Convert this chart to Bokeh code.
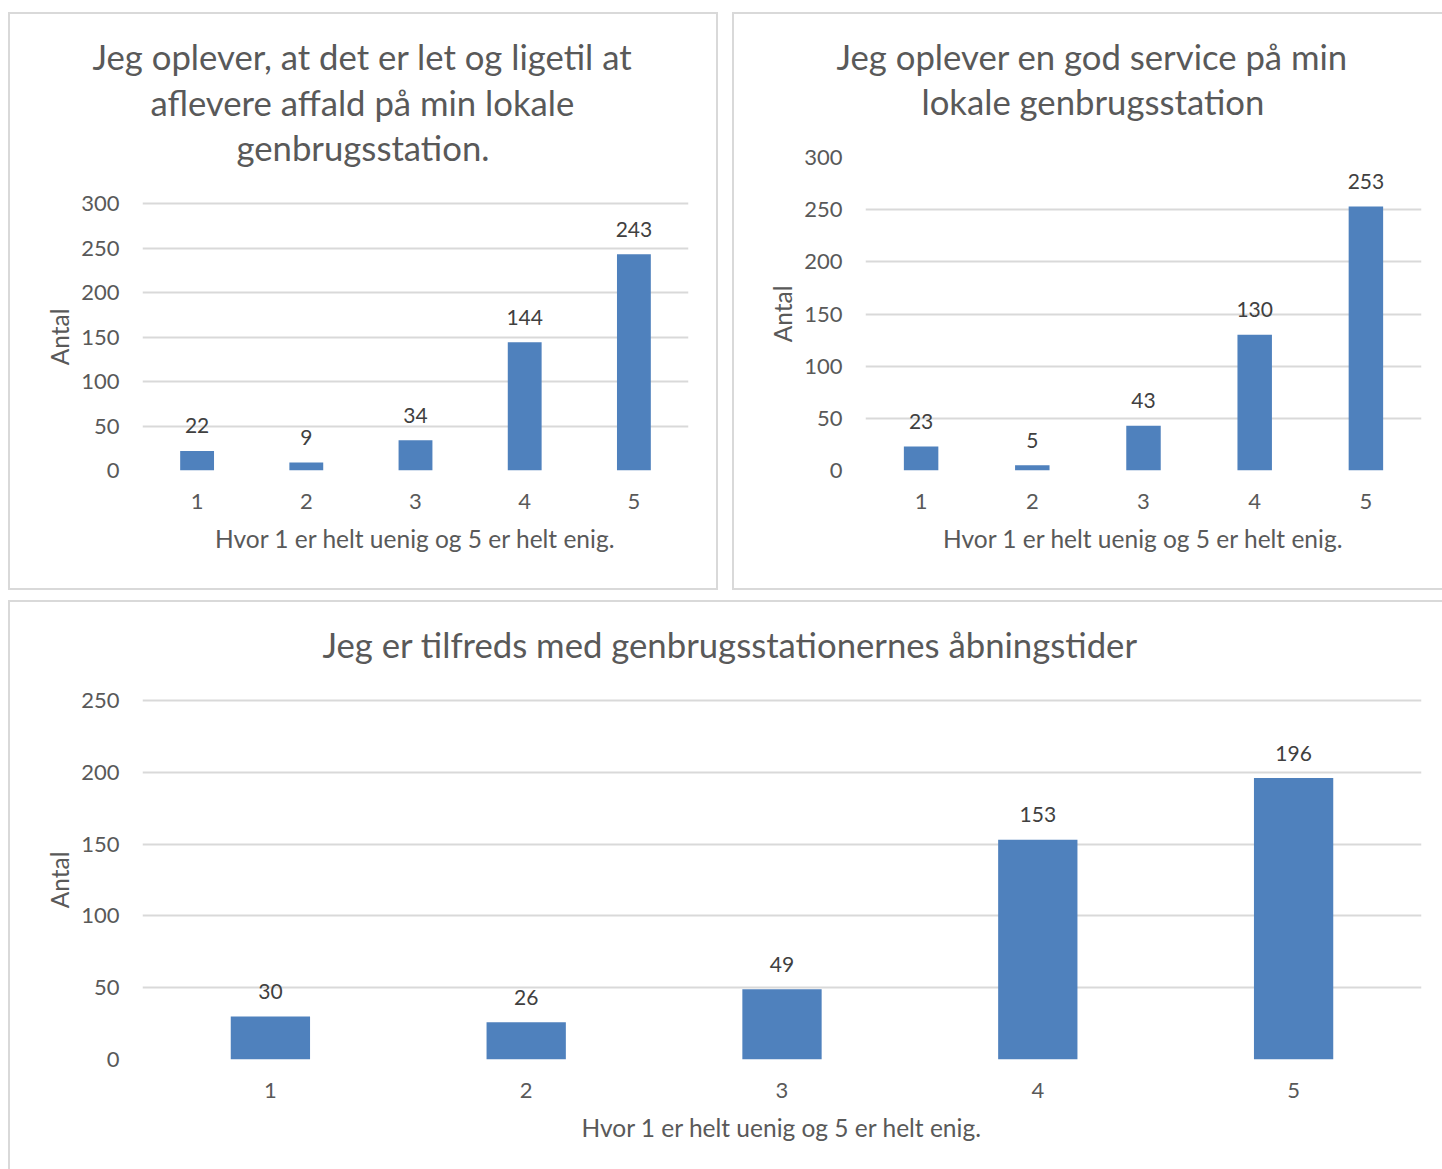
from bokeh.plotting import figure
from bokeh.models import Range1d, FixedTicker, Title
from bokeh.layouts import column, row
from bokeh.embed import file_html
from bokeh.resources import INLINE
from bokeh.core.properties import value

# Survey answers, scale 1-5
categories = [1, 2, 3, 4, 5]
tick_labels = ["1", "2", "3", "4", "5"]
easy_counts = [22, 9, 34, 144, 243]
service_counts = [23, 5, 43, 130, 253]
hours_counts = [30, 26, 49, 153, 196]

easy_title = ["Jeg oplever, at det er let og ligetil at",
              "aflevere affald på min lokale",
              "genbrugsstation."]
service_title = ["Jeg oplever en god service på min",
                 "lokale genbrugsstation"]
hours_title = ["Jeg er tilfreds med genbrugsstationernes åbningstider"]
x_axis_title = "Hvor 1 er helt uenig og 5 er helt enig."
y_axis_title = "Antal"

FONT = "Lato"
TITLE_SIZE = "34.7px"
AXIS_TITLE_SIZE = "24.5px"
BAR = "#4F81BD"
GREY_TEXT = "#595959"
LABEL_TEXT = "#404040"
GRID = "#d9d9d9"


def make_panel(counts, width, height, ytop, yticks, left, right, top, bottom,
               border, ytitle_offset):
    p = figure(width=width, height=height, output_backend="svg",
               toolbar_location=None, tools="",
               x_range=Range1d(0.5, 5.5), y_range=Range1d(0, ytop),
               min_border_left=left, min_border_right=right,
               min_border_top=top, min_border_bottom=bottom)
    p.outline_line_color = None
    p.background_fill_color = "white"
    p.border_fill_color = "white"
    p.styles = border

    p.vbar(x=categories, top=counts, width=0.31, fill_color=BAR,
           line_color=None)
    p.text(x=categories, y=counts, text=[str(c) for c in counts],
           text_align="center", text_baseline="middle", y_offset=-25,
           text_font=value(FONT), text_font_size="21px",
           text_color=LABEL_TEXT)

    p.xgrid.grid_line_color = None
    p.ygrid.grid_line_color = GRID
    p.ygrid.grid_line_width = 2

    p.xaxis.ticker = FixedTicker(ticks=categories)
    p.xaxis.major_label_overrides = {c: t for c, t in zip(categories, tick_labels)}
    p.yaxis.ticker = FixedTicker(ticks=yticks)

    for ax in (p.xaxis[0], p.yaxis[0]):
        ax.axis_line_color = None
        ax.major_tick_line_color = None
        ax.minor_tick_line_color = None
        ax.major_tick_out = 0
        ax.major_tick_in = 0
        ax.minor_tick_out = 0
        ax.major_label_text_font = FONT
        ax.major_label_text_font_size = "22px"
        ax.major_label_text_color = GREY_TEXT
        ax.axis_label_text_font = FONT
        ax.axis_label_text_font_size = AXIS_TITLE_SIZE
        ax.axis_label_text_font_style = "normal"
        ax.axis_label_text_color = GREY_TEXT
    p.xaxis.axis_label = x_axis_title
    p.xaxis.major_label_standoff = 23
    p.xaxis.axis_label_standoff = 12
    p.yaxis.major_label_standoff = 23

    # value-axis title, centred on the 0..max tick span rather than the frame
    p.add_layout(Title(text=y_axis_title, align="right", offset=ytitle_offset,
                       standoff=10, text_font=FONT,
                       text_font_size=AXIS_TITLE_SIZE,
                       text_font_style="normal", text_color=GREY_TEXT),
                 "left")
    return p


def add_title_lines(p, lines, offsets, standoffs):
    # lines are stacked upwards from the frame: add the lowest one first
    for line, off, so in reversed(list(zip(lines, offsets, standoffs))):
        p.add_layout(Title(text=line, align="left", offset=off, standoff=so,
                           text_font=FONT, text_font_size=TITLE_SIZE,
                           text_font_style="normal", text_color=GREY_TEXT),
                     "above")


ticks_300 = [0, 50, 100, 150, 200, 250, 300]
ticks_250 = [0, 50, 100, 150, 200, 250]

# top-left chart: its frame shares the top edge of the right-hand chart,
# so the value axis runs a little past 300
p1_top = 300 * (470 - 157) / (470 - 203)
p1 = make_panel(easy_counts, 710, 578, p1_top, ticks_300,
                132, 32, 143, 122,
                border={"border": f"2px solid {GRID}"},
                ytitle_offset=151)
add_title_lines(p1, easy_title, [-50, 8, 94], [-20.8, 25.6, -20.8])

p2 = make_panel(service_counts, 710, 578, 300, ticks_300,
                131, 23, 143, 122,
                border={"border-left": f"2px solid {GRID}",
                        "border-top": f"2px solid {GRID}",
                        "border-bottom": f"2px solid {GRID}"},
                ytitle_offset=128)
add_title_lines(p2, service_title, [-29, 56], [-66.4, 71.2])

# bottom chart: frame starts a little above the 250 line to leave the
# title room in the top border
p3_top = 250 * (1059 - 680) / (1059 - 700)
p3 = make_panel(hours_counts, 1434, 569, p3_top, ticks_250,
                132, 23, 78, 112,
                border={"border-left": f"2px solid {GRID}",
                        "border-top": f"2px solid {GRID}"},
                ytitle_offset=171)
add_title_lines(p3, hours_title, [180], [31.2])

p1.margin = (12, 0, 0, 8)
p2.margin = (12, 0, 0, 14)
p3.margin = (10, 0, 0, 8)

layout = column(row(p1, p2), p3)

with open("out.html", "w") as f:
    f.write(file_html(layout, INLINE))
